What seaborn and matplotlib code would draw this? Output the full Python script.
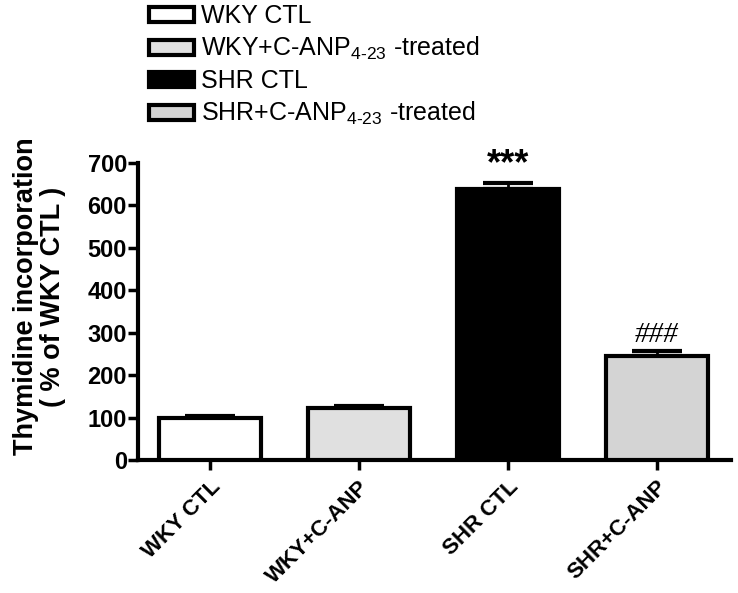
import matplotlib
matplotlib.use("Agg")
import matplotlib.pyplot as plt
import seaborn as sns
import numpy as np
import pandas as pd
from matplotlib.patches import Patch

categories = ["WKY CTL", "WKY+C-ANP", "SHR CTL", "SHR+C-ANP"]
values = [100, 122, 638, 246]
errors = [4, 5, 15, 10]
legend_labels = [
    "WKY CTL",
    r"WKY+C-ANP$_{\mathregular{4\text{-}23}}$ -treated",
    "SHR CTL",
    r"SHR+C-ANP$_{\mathregular{4\text{-}23}}$ -treated",
]
colors = ["#ffffff", "#e0e0e0", "#000000", "#d4d4d4"]
markers = ["", "", "***", "###"]
yticks = [0, 100, 200, 300, 400, 500, 600, 700]

sns.set_style("ticks")
plt.rcParams["font.family"] = ["Liberation Sans", "DejaVu Sans"]
plt.rcParams["mathtext.fontset"] = "custom"
plt.rcParams["mathtext.rm"] = "Liberation Sans"
plt.rcParams["text.color"] = "black"
plt.rcParams["axes.labelcolor"] = "black"
plt.rcParams["xtick.color"] = "black"
plt.rcParams["ytick.color"] = "black"
plt.rcParams["axes.edgecolor"] = "black"

fig = plt.figure(figsize=(7.38, 5.93), dpi=100)
ax = fig.add_axes([0.187, 0.2243, 0.8035, 0.5007])

df = pd.DataFrame({"group": categories, "value": values})
sns.barplot(data=df, x="group", y="value", hue="group", palette=colors,
            order=categories, hue_order=categories, legend=False,
            width=0.685, edgecolor="black", linewidth=3, ax=ax, zorder=3)

pos = np.arange(len(categories))
ax.errorbar(pos, values, yerr=[np.zeros(len(errors)), errors], fmt="none",
            ecolor="black", elinewidth=2, capsize=18, capthick=3, zorder=2)

for x, v, e, m in zip(pos, values, errors, markers):
    if m == "***":
        ax.text(x, v + e + 2, m, ha="center", va="bottom", fontsize=26,
                fontweight="bold", color="black")
    elif m:
        ax.text(x, v + e + 8, m, ha="center", va="bottom", fontsize=21,
                family=["Liberation Serif"], style="italic", color="black")

ax.set_xlim(-0.483, 3.5)
ax.set_ylim(0, 700)
ax.set_yticks(yticks)
ax.set_yticklabels([str(t) for t in yticks], fontsize=17, fontweight="bold")
ax.set_xticks(pos)
ax.set_xticklabels(categories, fontsize=16, fontweight="bold", rotation=45,
                   ha="right", rotation_mode="anchor")
ax.set_xlabel("")
ax.set_ylabel("Thymidine incorporation\n( % of WKY CTL )", fontsize=19.5,
              fontweight="bold", linespacing=1.05)
ax.yaxis.set_label_coords(-0.122, 0.55)
for s in ["top", "right"]:
    ax.spines[s].set_visible(False)
for s in ["left", "bottom"]:
    ax.spines[s].set_linewidth(3)
ax.tick_params(axis="y", width=2.5, length=7, pad=1)
ax.tick_params(axis="x", width=2.5, length=7, pad=5)

handles = [Patch(facecolor=c, edgecolor="black", linewidth=3) for c in colors]
fig.legend(handles, legend_labels, loc="upper left",
           bbox_to_anchor=(0.188, 1.01), frameon=False, fontsize=18,
           handlelength=1.8, handleheight=0.55, labelspacing=0.28,
           handletextpad=0.3, borderaxespad=0)

fig.savefig("out.png", dpi=100)
